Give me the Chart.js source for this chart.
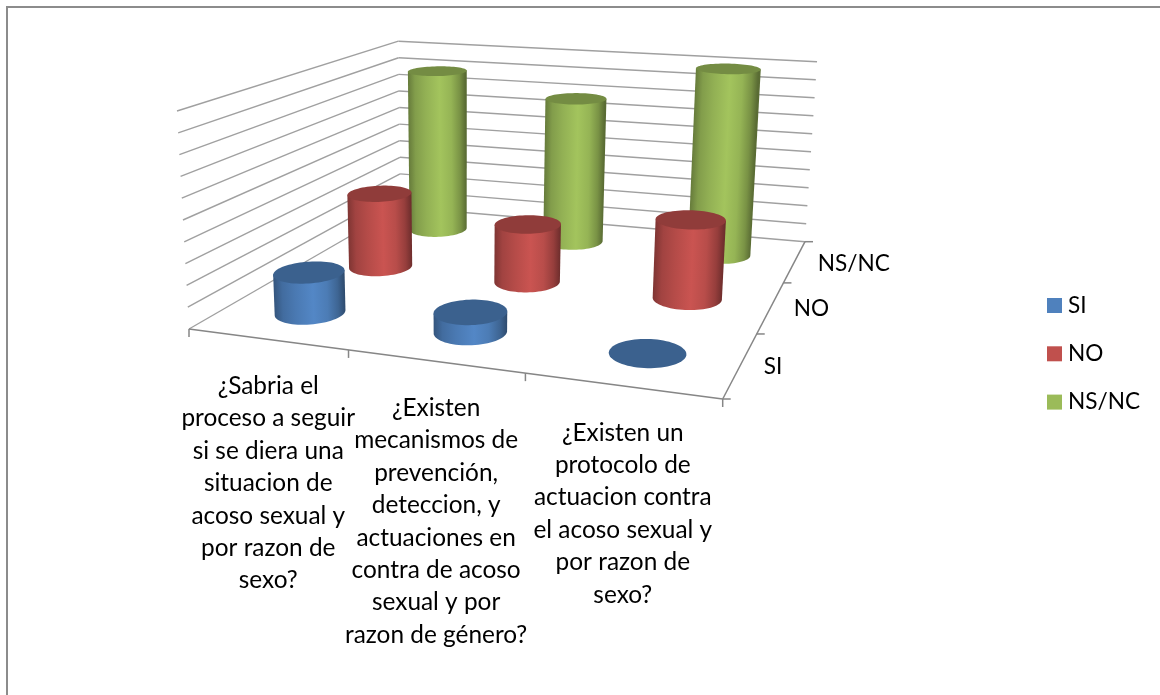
<!DOCTYPE html>
<html>
<head>
<meta charset="utf-8">
<style>
  html, body { margin: 0; padding: 0; background: #fff; }
  #wrap { position: relative; width: 1160px; height: 695px; }
</style>
<script src="https://cdn.jsdelivr.net/npm/chart.js@4/dist/chart.umd.js"></script>
</head>
<body>
<div id="wrap"><canvas id="chart"></canvas></div>
<script>
// Data
const categories = [
  ['¿Sabria el', 'proceso a seguir', 'si se diera una', 'situacion de', 'acoso sexual y', 'por razon de', 'sexo?'],
  ['¿Existen', 'mecanismos de', 'prevención,', 'deteccion, y', 'actuaciones en', 'contra de acoso', 'sexual y por', 'razon de género?'],
  ['¿Existen un', 'protocolo de', 'actuacion contra', 'el acoso sexual y', 'por razon de', 'sexo?']
];
const seriesNames = ['SI', 'NO', 'NS/NC'];
const siValues = [1.9, 0.9, 0];
const noValues = [3.8, 2.9, 3.85];
const nsncValues = [9, 7.9, 10];
const seriesColors = ['#4f81bd', '#c0504d', '#9bbb59'];
const valueMax = 10;
const valueStep = 1;

const FONT = 'Lato, Carlito, Calibri, sans-serif';
const FONT_SIZE = 24.4;
const SERIES_FONT_SIZE = 22.6;
const GRID = '#a0a0a0';
const AXIS = '#868686';

// Canvas position of the floor corners, and where the verticals converge
const FLOOR = [[189, 329], [722.7, 399], [805, 241.7], [400.5, 207]];
const VANISH = [465, 5340];
const RADIUS_U = 0.067, RADIUS_V = 0.075, SHIFT_U = 0.004;

// unit square -> quad homography
function homography(q) {
  const [[x0, y0], [x1, y1], [x2, y2], [x3, y3]] = q;
  const dx1 = x1 - x2, dx2 = x3 - x2, sx = x0 - x1 + x2 - x3;
  const dy1 = y1 - y2, dy2 = y3 - y2, sy = y0 - y1 + y2 - y3;
  const det = dx1 * dy2 - dx2 * dy1;
  const g = (sx * dy2 - dx2 * sy) / det;
  const h = (dx1 * sy - sx * dy1) / det;
  const a = x1 - x0 + g * x1, b = x3 - x0 + h * x3;
  const d = y1 - y0 + g * y1, e = y3 - y0 + h * y3;
  return (u, v) => {
    const w = g * u + h * v + 1;
    return [(a * u + b * v + x0) / w, (d * u + e * v + y0) / w];
  };
}
const floorMap = homography(FLOOR);

// u: along categories, v: depth, t: height, all 0..1
function project(u, v, t) {
  const [x, y] = floorMap(u, v);
  // share of the distance to the vanishing point that a full-height column covers
  const f = 0.0323 + 9.11e-5 * (y - 207) - 4e-7 * (x - 400.5);
  return [x + (x - VANISH[0]) * f * t, y - (VANISH[1] - y) * f * t];
}

function shade(hex, k) {
  const n = parseInt(hex.slice(1), 16);
  const ch = s => Math.min(255, Math.round(((n >> s) & 255) * k));
  return `rgb(${ch(16)},${ch(8)},${ch(0)})`;
}

function ring(u, v, t) {
  const pts = [];
  for (let i = 0; i < 72; i++) {
    const a = i / 72 * Math.PI * 2;
    pts.push(project(u + SHIFT_U + Math.cos(a) * RADIUS_U, v + Math.sin(a) * RADIUS_V, t));
  }
  return pts;
}

function extremes(pts) {
  let l = 0, r = 0;
  pts.forEach((p, i) => { if (p[0] < pts[l][0]) l = i; if (p[0] > pts[r][0]) r = i; });
  return [l, r];
}

function lowerArc(pts, l, r) {
  const n = pts.length;
  const walk = step => {
    const out = [];
    for (let i = l; ; i = (i + step + n) % n) { out.push(pts[i]); if (i === r) break; }
    return out;
  };
  const a = walk(1), b = walk(-1);
  const avg = s => s.reduce((m, p) => m + p[1], 0) / s.length;
  return avg(a) > avg(b) ? a : b;
}

function tracePoly(ctx, pts) {
  ctx.beginPath();
  pts.forEach((p, i) => i ? ctx.lineTo(p[0], p[1]) : ctx.moveTo(p[0], p[1]));
  ctx.closePath();
}

// gradient across the column, square to its (slightly leaning) axis
function sideGradient(ctx, a, b, c) {
  const ax = c[0] - a[0], ay = c[1] - a[1], len = Math.hypot(ax, ay) || 1;
  const nx = -ay / len, ny = ax / len;
  const d = (b[0] - a[0]) * nx + (b[1] - a[1]) * ny;
  return ctx.createLinearGradient(a[0], a[1], a[0] + nx * d, a[1] + ny * d);
}

// Bar controller that draws its bars as projected cylinders
class Cylinder3D extends Chart.BarController {
  draw() {
    const chart = this.chart, ctx = chart.ctx, meta = this._cachedMeta;
    const xs = meta.iScale, ys = meta.vScale, zs = chart.scales.z;
    const color = this.getDataset().backgroundColor;
    const v = (zs.getPixelForValue(this.index) - zs.left) / zs.width;
    ctx.save();
    meta.data.forEach((bar, i) => {
      const u = (xs.getPixelForValue(i) - xs.left) / xs.width;
      const t = (ys.bottom - ys.getPixelForValue(this.getParsed(i).y)) / ys.height;
      const bottom = ring(u, v, 0), top = ring(u, v, t);
      const [bl, br] = extremes(bottom);
      const [tl, tr] = extremes(top);
      if (t > 0) {
        const grad = sideGradient(ctx, bottom[bl], bottom[br], top[tl]);
        grad.addColorStop(0, shade(color, 0.66));
        grad.addColorStop(0.12, shade(color, 0.84));
        grad.addColorStop(0.3, shade(color, 0.94));
        grad.addColorStop(0.55, shade(color, 1.05));
        grad.addColorStop(0.75, shade(color, 0.96));
        grad.addColorStop(0.9, shade(color, 0.78));
        grad.addColorStop(1, shade(color, 0.58));
        tracePoly(ctx, [...lowerArc(bottom, bl, br), top[tr], top[tl]]);
        ctx.fillStyle = grad;
        ctx.fill();
      }
      tracePoly(ctx, top);
      ctx.fillStyle = shade(color, 0.75);
      ctx.fill();
    });
    ctx.restore();
  }
}
Cylinder3D.id = 'cylinder3d';
Chart.register(Cylinder3D);

function segment(ctx, a, b) {
  ctx.beginPath();
  ctx.moveTo(a[0], a[1]);
  ctx.lineTo(b[0], b[1]);
  ctx.stroke();
}

// Outer frame, walls, floor and tick marks, then the texts and the legend
const boxPlugin = {
  id: 'box',
  beforeDatasetsDraw(chart) {
    const ctx = chart.ctx, ys = chart.scales.y, xs = chart.scales.x, zs = chart.scales.z;
    ctx.save();
    ctx.strokeStyle = '#8c8c8c';
    ctx.lineWidth = 2;
    ctx.beginPath();
    ctx.moveTo(7, chart.height);
    ctx.lineTo(7, 7);
    ctx.lineTo(chart.width, 7);
    ctx.stroke();

    ctx.lineWidth = 1.4;
    ys.ticks.forEach(tick => {
      const t = (ys.bottom - ys.getPixelForValue(tick.value)) / ys.height;
      ctx.strokeStyle = GRID;
      segment(ctx, project(0, 0, t), project(0, 1, t));
      segment(ctx, project(0, 1, t), project(1, 1, t));
    });

    ctx.strokeStyle = AXIS;
    ctx.lineWidth = 1.5;
    segment(ctx, project(0, 0, 0), project(1, 0, 0));
    segment(ctx, project(1, 0, 0), project(1, 1, 0));
    for (let i = 0; i <= xs.ticks.length; i++) {
      const p = project(i / xs.ticks.length, 0, 0);
      segment(ctx, p, [p[0], p[1] + 8]);
    }
    for (let i = 0; i <= zs.ticks.length; i++) {
      const p = project(1, i / zs.ticks.length, 0);
      segment(ctx, p, [p[0] + 8, p[1]]);
    }
    ctx.restore();
  },
  afterDatasetsDraw(chart) {
    const ctx = chart.ctx, xs = chart.scales.x, zs = chart.scales.z;
    ctx.save();
    ctx.fillStyle = '#000';
    ctx.font = `${FONT_SIZE}px ${FONT}`;
    ctx.textBaseline = 'middle';
    ctx.textAlign = 'center';
    categories.forEach((lines, i) => {
      const p = project((xs.getPixelForValue(i) - xs.left) / xs.width, 0, 0);
      lines.forEach((line, k) => ctx.fillText(line, p[0] + 1.5, p[1] + 47 + k * 32.4));
    });
    ctx.font = `${SERIES_FONT_SIZE}px ${FONT}`;
    ctx.textAlign = 'left';
    seriesNames.forEach((name, j) => {
      const p = project(1, (zs.getPixelForValue(j) - zs.left) / zs.width, 0);
      ctx.fillText(name, p[0] + 23, p[1] + 2);
    });
    seriesNames.forEach((name, j) => {
      const y = 305.5 + j * 48.3;
      ctx.fillStyle = seriesColors[j];
      ctx.fillRect(1047, y - 7.5, 15, 15);
      ctx.fillStyle = '#000';
      ctx.fillText(name, 1068, y);
    });
    ctx.restore();
  }
};

new Chart(document.getElementById('chart'), {
  type: 'cylinder3d',
  data: {
    labels: categories,
    datasets: [
      { label: seriesNames[0], data: siValues, backgroundColor: seriesColors[0] },
      { label: seriesNames[1], data: noValues, backgroundColor: seriesColors[1] },
      { label: seriesNames[2], data: nsncValues, backgroundColor: seriesColors[2] }
    ]
  },
  options: {
    responsive: true,
    maintainAspectRatio: false,
    animation: false,
    plugins: {
      tooltip: { enabled: false },
      legend: { display: false }
    },
    scales: {
      x: { display: false },
      y: { display: false, min: 0, max: valueMax, ticks: { stepSize: valueStep } },
      z: { type: 'category', axis: 'x', labels: seriesNames, offset: true, display: false }
    }
  },
  plugins: [boxPlugin]
});
</script>
</body>
</html>
